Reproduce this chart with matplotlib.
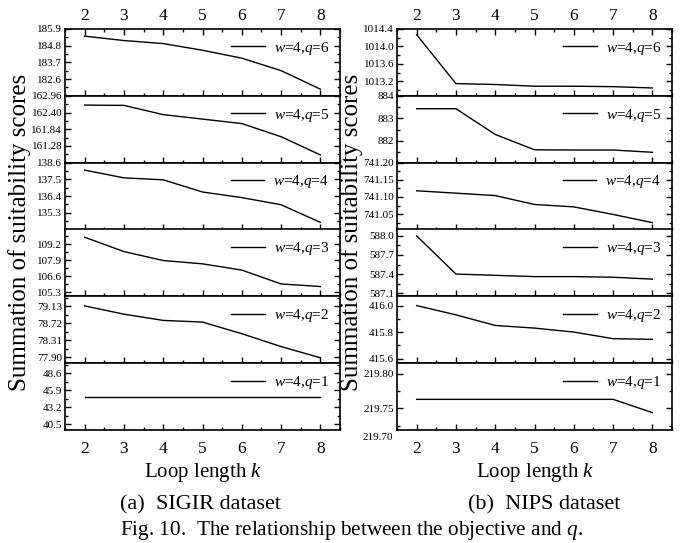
import matplotlib
matplotlib.use("Agg")
import matplotlib.pyplot as plt
from matplotlib.ticker import AutoMinorLocator, FixedLocator, FormatStrFormatter

plt.rcParams["font.family"] = ["Liberation Serif", "DejaVu Serif"]
plt.rcParams["mathtext.fontset"] = "custom"
plt.rcParams["mathtext.rm"] = "Liberation Serif"
plt.rcParams["mathtext.it"] = "Liberation Serif:italic"

# loop length k
k = [2, 3, 4, 5, 6, 7, 8]
q_values = [6, 5, 4, 3, 2, 1]

# SIGIR dataset, panels from q=6 (top) down to q=1
sigir_q6 = [185.43, 185.14, 184.94, 184.50, 183.98, 183.16, 181.94]
sigir_q5 = [162.65, 162.64, 162.33, 162.18, 162.03, 161.59, 160.98]
sigir_q4 = [138.11, 137.60, 137.47, 136.67, 136.30, 135.83, 134.67]
sigir_q3 = [109.77, 108.60, 107.87, 107.60, 107.09, 105.96, 105.75]
sigir_q2 = [79.14, 78.94, 78.79, 78.75, 78.47, 78.16, 77.89]
sigir_q1 = [44.84, 44.84, 44.84, 44.84, 44.84, 44.84, 44.84]

# NIPS dataset
nips_q6 = [1014.27, 1013.15, 1013.13, 1013.09, 1013.09, 1013.08, 1013.05]
nips_q5 = [883.43, 883.43, 882.29, 881.61, 881.60, 881.60, 881.50]
nips_q4 = [741.118, 741.111, 741.104, 741.078, 741.071, 741.049, 741.025]
nips_q3 = [588.00, 587.40, 587.38, 587.36, 587.36, 587.35, 587.32]
nips_q2 = [416.00, 415.93, 415.85, 415.83, 415.80, 415.75, 415.745]
nips_q1 = [219.763, 219.763, 219.763, 219.763, 219.763, 219.763, 219.744]

# y tick labels
sigir_ticks = [
    [182.6, 183.7, 184.8, 185.9],
    [161.28, 161.84, 162.40, 162.96],
    [135.3, 136.4, 137.5, 138.6],
    [105.3, 106.6, 107.9, 109.2],
    [77.90, 78.31, 78.72, 79.13],
    [40.5, 43.2, 45.9, 48.6],
]
nips_ticks = [
    [1013.2, 1013.6, 1014.0, 1014.4],
    [882, 883, 884],
    [741.05, 741.10, 741.15, 741.20],
    [587.1, 587.4, 587.7, 588.0],
    [415.6, 415.8, 416.0],
    [219.75, 219.80],
]

sigir_lims = [(181.5, 185.9), (160.72, 162.96), (134.2, 138.6),
              (104.95, 110.4), (77.76, 79.37), (39.55, 50.2)]
nips_lims = [(1012.87, 1014.4), (881.04, 884.0), (741.005, 741.2),
             (587.05, 588.1), (415.565, 416.07), (219.719, 219.815)]
sigir_fmt = ["%.1f", "%.2f", "%.1f", "%.1f", "%.2f", "%.1f"]
nips_fmt = ["%.1f", "%.0f", "%.2f", "%.1f", "%.1f", "%.2f"]

sigir = [sigir_q6, sigir_q5, sigir_q4, sigir_q3, sigir_q2, sigir_q1]
nips = [nips_q6, nips_q5, nips_q4, nips_q3, nips_q2, nips_q1]

W, H = 686, 543
fig = plt.figure(figsize=(W / 100, H / 100), dpi=100)

top_px, bot_px = 29, 430
ph = (bot_px - top_px) / 6


def draw_column(left_px, series, ticks, lims, fmts):
    axes = []
    for i in range(6):
        y0 = top_px + (i + 1) * ph  # bottom pixel of panel i
        ax = fig.add_axes([left_px / W, 1 - y0 / H, 275 / W, ph / H])
        ax.plot(k, series[i], color="black", lw=1.0,
                label=r"$w$=4,$q$=%d" % q_values[i])
        ax.set_xlim(1.5, 8.5)
        ax.set_ylim(*lims[i])
        ax.set_xticks(k)
        ax.xaxis.set_minor_locator(AutoMinorLocator(2))
        ax.yaxis.set_major_locator(FixedLocator(ticks[i]))
        ax.yaxis.set_minor_locator(AutoMinorLocator(2))
        ax.yaxis.set_major_formatter(FormatStrFormatter(fmts[i]))
        ax.tick_params(which="both", direction="in", left=True, right=True,
                       bottom=True, top=(i == 0), labelbottom=(i == 5),
                       labeltop=(i == 0), labelsize=12.5, width=1.0)
        ax.tick_params(axis="y", labelsize=8, pad=2)
        ax.tick_params(which="major", length=4.5)
        ax.tick_params(which="minor", length=2.5)
        if i == 5:
            ax.tick_params(axis="x", pad=8)
        for s in ax.spines.values():
            s.set_linewidth(1.2)
        ax.legend(loc="upper right", frameon=False, fontsize=11,
                  handlelength=2.2, handletextpad=0.6,
                  borderaxespad=0.3, borderpad=0.4)
        axes.append(ax)
    return axes


left_axes = draw_column(65, sigir, sigir_ticks, sigir_lims, sigir_fmt)
right_axes = draw_column(397, nips, nips_ticks, nips_lims, nips_fmt)

# the 219.70 label sits below the last NIPS panel
right_axes[-1].annotate("219.70", xy=(0, 219.70),
                        xycoords=("axes fraction", "data"),
                        xytext=(-3, 4), textcoords="offset points",
                        ha="right", va="center", fontsize=8,
                        annotation_clip=False)

for xc in [20, 352]:
    fig.text(xc / W, 1 - 232 / H, "Summation of suitability scores",
             rotation=90, ha="center", va="center", fontsize=18)

for xc in [203, 535]:
    fig.text(xc / W, 1 - 472 / H, r"Loop length $k$",
             ha="center", va="center", fontsize=15)

fig.text(201 / W, 1 - 505 / H, "(a)  SIGIR dataset",
         ha="center", va="center", fontsize=16)
fig.text(544 / W, 1 - 505 / H, "(b)  NIPS dataset",
         ha="center", va="center", fontsize=16)
fig.text(352 / W, 1 - 530 / H,
         r"Fig. 10.  The relationship between the objective and $q$.",
         ha="center", va="center", fontsize=15.3)

fig.savefig("out.png", dpi=100)
